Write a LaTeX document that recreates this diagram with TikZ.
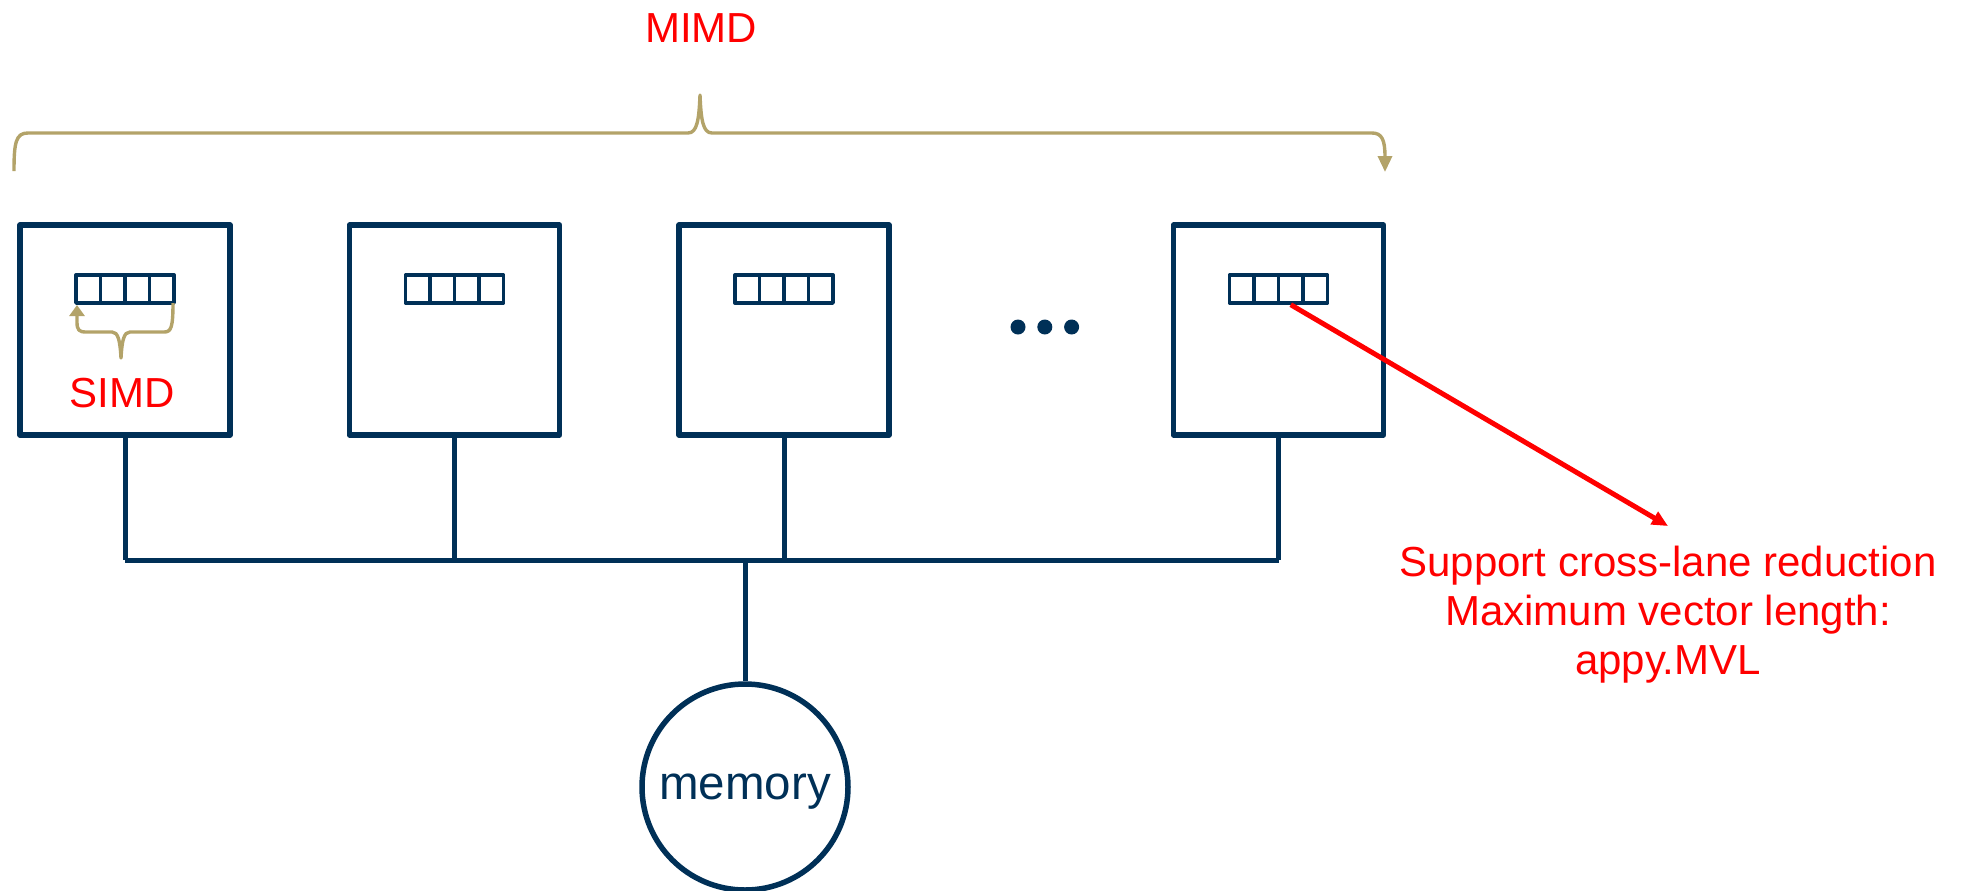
\documentclass[tikz,border=0pt]{standalone}
\usepackage{fontspec}
\setmainfont{Liberation Sans}
\usetikzlibrary{positioning, arrows.meta}

\definecolor{navy}{HTML}{003057}
\definecolor{gold}{HTML}{B3A369}

\begin{document}
\begin{tikzpicture}[
        x = 0.5pt, y = -0.5pt, % one unit per pixel, y going down
        > = {Triangle[length = 8pt, width = 7pt]}, % arrow head style
        node distance = 57pt, % gap between cores
        line join = round
    ]

    \tikzstyle{core}=[draw = navy, line width = 2.75pt, rectangle,
    minimum size = 105pt, inner sep = 0pt]
    \tikzstyle{lane}=[draw = navy, line width = 1.7pt, rectangle,
    minimum width = 12.25pt, minimum height = 14pt, inner sep = 0pt]
    \tikzstyle{wire}=[draw = navy, line width = 2.5pt]
    \tikzstyle{dotnode}=[fill = navy, circle, minimum size = 7.5pt, inner sep = 0pt]
    \tikzstyle{gloss}=[text = red, inner sep = 0pt,
    font = \fontsize{21}{24.5}\selectfont]
    \tikzstyle{curly}=[draw = gold, line width = 1.7pt]

    \useasboundingbox (0,0) rectangle (1970,890);

    \node[core] (c1) at (125,330) {}; \node[core] (c2) [right = of c1] {};
    \node[core] (c3) [right = of c2] {}; \node[core] (c4) [right = 139.5pt of c3] {};

    % four lanes per vector register
    \foreach \c in {1,...,4}
        \foreach \l in {1,...,4}
            \node[lane] (r\c-\l) at ([shift={(-61.25+24.5*\l,-41)}]c\c.center) {};

    \node[dotnode] (d1) at (1018,327) {}; \node[dotnode] (d2) [right = 5.5pt of d1] {};
    \node[dotnode] (d3) [right = 5.5pt of d2] {};

    \node[draw = navy, circle, line width = 2.75pt, minimum size = 103pt,
    text = navy, text depth = 0pt, font = \fontsize{23.75}{28}\selectfont]
    (mem) at (745,787) {memory};

    % bus
    \coordinate (bus) at (745,560);
    \draw[wire] (c1.south |- bus) -- (c4.south |- bus);
    \foreach \c in {1,...,4}
        \draw[wire] (c\c.south) -- (c\c.south |- bus);
    \draw[wire] (mem.north |- bus) -- (mem.north);

    \node[gloss] (simd) at (122,393) {SIMD};
    \node[gloss] (mimd) at (701,28) {MIMD};
    \node[gloss, align = center] (note) at (1668,615)
    {Support cross-lane reduction\\Maximum vector length:\\appy.MVL};

    \draw[->, red, line width = 2.5pt] (r4-3.south) -- ([yshift = 10pt]note.north);

    % braces
    \draw[curly, ->] (14,171) .. controls (14,142) and (16,133) .. (28,133)
        -- (688,133) .. controls (697,133) and (699,120) .. (700,95)
        .. controls (701,120) and (703,133) .. (712,133) -- (1372,133)
        .. controls (1382,133) and (1385,140) .. (1385,172);
    \draw[curly, {Triangle[length = 5.5pt, width = 7.5pt]}-] (77,305) -- (77,322)
        .. controls (77,330) and (79,332) .. (86,332) -- (112,332)
        .. controls (118,332) and (120,340) .. (121,358)
        .. controls (122,340) and (124,332) .. (130,332) -- (164,332)
        .. controls (171,332) and (173,328) .. (173,303);

\end{tikzpicture}
\end{document}
